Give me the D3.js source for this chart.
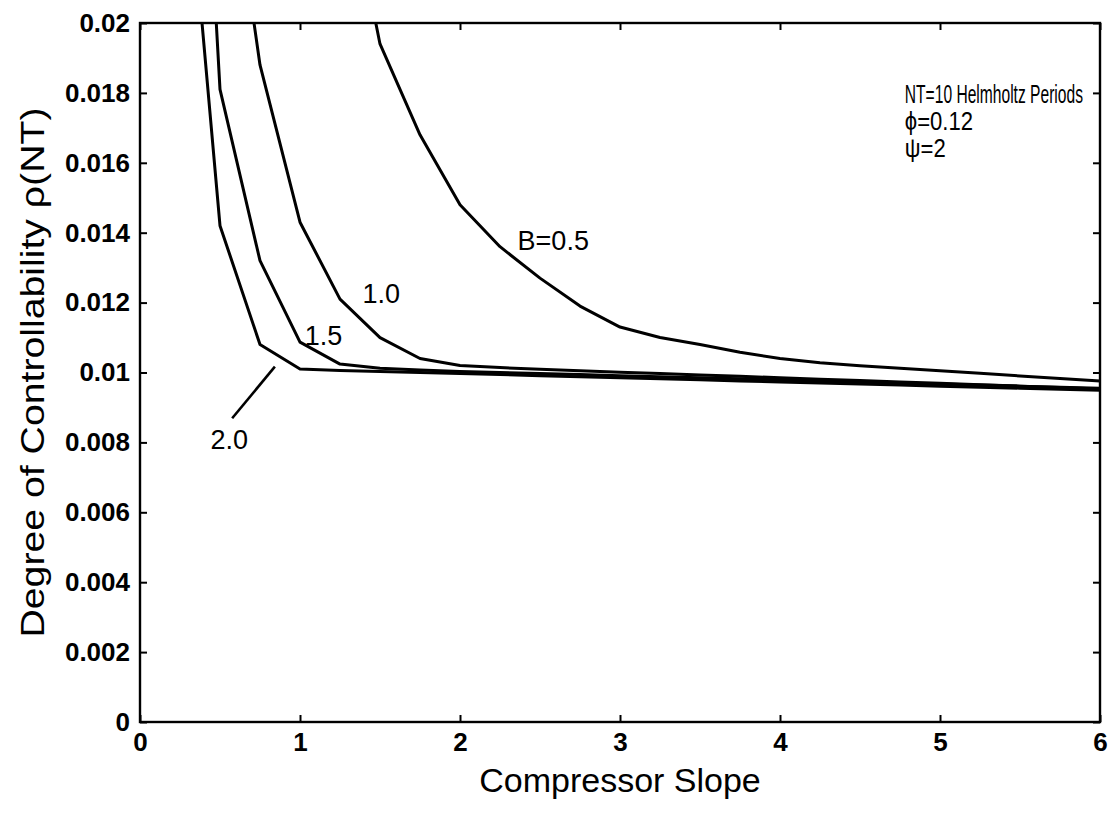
<!DOCTYPE html>
<html><head><meta charset="utf-8">
<script src="https://cdn.jsdelivr.net/npm/d3@7"></script>
<style>
html,body{margin:0;padding:0;background:#fff;}
svg{display:block;}
text{font-family:"Liberation Sans",Arial,Helvetica,sans-serif;fill:#000;}
</style></head>
<body>
<svg id="chart" width="1117" height="813"></svg>
<script>
// ---- data ----
const slope = [0.25,0.5,0.75,1.0,1.25,1.5,1.75,2.0,2.25,2.5,2.75,3.0,3.25,3.5,3.75,4.0,4.25,4.5,4.75,5.0,5.25,5.5,5.75,6.0];
const rhoB05 = [null,null,null,null,0.0251,0.0194,0.0168,0.0148,0.0136,0.0127,0.0119,0.0113,0.0110,0.0108,0.01058,0.0104,0.01028,0.01019,0.01012,0.01005,0.00998,0.0099,0.00983,0.00976];
const rhoB10 = [null,0.0268,0.0188,0.0143,0.0121,0.0110,0.01040,0.01020,0.01014,0.01009,0.01005,0.01001,0.00997,0.00993,0.00989,0.00985,0.00981,0.00977,0.00973,0.00969,0.00965,0.00961,0.00957,0.00953];
const rhoB15 = [0.0385,0.0181,0.0132,0.01087,0.01024,0.01012,0.01007,0.01003,0.01,0.00997,0.00994,0.00991,0.00988,0.00985,0.00982,0.00979,0.00976,0.00973,0.0097,0.00967,0.00964,0.00961,0.00958,0.00955];
const rhoB20 = [0.0271,0.0142,0.0108,0.0101,0.01006,0.01003,0.01,0.00997,0.00994,0.00991,0.00988,0.00985,0.00982,0.00979,0.00976,0.00973,0.0097,0.00967,0.00964,0.00961,0.00958,0.00955,0.00952,0.00949];
const seriesNames = ["B=0.5","1.0","1.5","2.0"];
const xTicks = [0,1,2,3,4,5,6];
const xTickLabels = ["0","1","2","3","4","5","6"];
const yTicks = [0,0.002,0.004,0.006,0.008,0.01,0.012,0.014,0.016,0.018,0.02];
const yTickLabels = ["0","0.002","0.004","0.006","0.008","0.01","0.012","0.014","0.016","0.018","0.02"];
const annotLines = ["NT=10 Helmholtz Periods","\u03d5=0.12","\u03c8=2"];
const xTitle = "Compressor Slope";
const yTitle = "Degree of Controllability \u03c1(NT)";

// ---- layout ----
const L=140, R=1100, T=23, B=722;
const svg = d3.select("#chart");
const x = d3.scaleLinear().domain([0,6]).range([L,R]);
const y = d3.scaleLinear().domain([0,0.02]).range([B,T]);

svg.append("defs").append("clipPath").attr("id","clip")
  .append("rect").attr("x",L).attr("y",T).attr("width",R-L).attr("height",B-T);

// axes with inward ticks
const tickLen = 7;
const gx = svg.append("g").attr("transform",`translate(0,${B})`)
  .call(d3.axisBottom(x).tickValues(xTicks).tickFormat((d,i)=>xTickLabels[i]).tickSizeInner(-tickLen).tickSizeOuter(0).tickPadding(16));
const gxTop = svg.append("g").attr("transform",`translate(0,${T})`)
  .call(d3.axisTop(x).tickValues(xTicks).tickFormat("").tickSizeInner(-tickLen).tickSizeOuter(0));
const gy = svg.append("g").attr("transform",`translate(${L},0)`)
  .call(d3.axisLeft(y).tickValues(yTicks).tickFormat((d,i)=>yTickLabels[i]).tickSizeInner(-tickLen).tickSizeOuter(0).tickPadding(16));
const gyR = svg.append("g").attr("transform",`translate(${R},0)`)
  .call(d3.axisRight(y).tickValues(yTicks).tickFormat("").tickSizeInner(-tickLen).tickSizeOuter(0));
[gx,gxTop,gy,gyR].forEach(g=>{
  g.select(".domain").remove();
  g.selectAll(".tick line").attr("stroke","#000").attr("stroke-width",2);
  g.selectAll(".tick text").attr("font-size",26).attr("font-weight","bold").attr("fill","#000");
});
gy.selectAll(".tick text").attr("dx",6);
gx.selectAll(".tick text").attr("dy","0.5em");

// frame
svg.append("rect").attr("x",L).attr("y",T).attr("width",R-L).attr("height",B-T)
  .attr("fill","none").attr("stroke","#000").attr("stroke-width",2.4);

// lines
const allSeries = [rhoB05,rhoB10,rhoB15,rhoB20];
const line = d3.line().defined(d=>d[1]!=null).x(d=>x(d[0])).y(d=>y(d[1]));
const gl = svg.append("g").attr("clip-path","url(#clip)");
allSeries.forEach(vals=>{
  gl.append("path").datum(slope.map((s,i)=>[s,vals[i]]))
    .attr("d",line).attr("fill","none").attr("stroke","#000")
    .attr("stroke-width",3).attr("stroke-linejoin","round");
});

// curve labels
const labelPos = [[2.36,0.0135],[1.39,0.0120],[1.03,0.0108],[0.44,0.0078]];
seriesNames.forEach((n,i)=>{
  svg.append("text").attr("x",x(labelPos[i][0])).attr("y",y(labelPos[i][1]))
    .attr("font-size",27).text(n);
});
// leader line for 2.0
svg.append("line").attr("x1",x(0.576)).attr("y1",y(0.00869)).attr("x2",x(0.843)).attr("y2",y(0.01017))
  .attr("stroke","#000").attr("stroke-width",2.6);

// annotation (condensed like the reference)
const annotScale = [0.6,0.85,0.85];
annotLines.forEach((t,i)=>{
  svg.append("text")
    .attr("transform",`translate(${x(4.78)},${y(0.01772)+i*27}) scale(${annotScale[i]},1)`)
    .attr("font-size",26).text(t);
});

// titles
svg.append("text").attr("x",(L+R)/2).attr("y",792).attr("text-anchor","middle")
  .attr("font-size",34).text(xTitle);
svg.append("text").attr("transform",`translate(44,${(T+B)/2}) rotate(-90)`)
  .attr("text-anchor","middle").attr("font-size",33)
  .attr("textLength",530).attr("lengthAdjust","spacingAndGlyphs").text(yTitle);
</script>
</body></html>
